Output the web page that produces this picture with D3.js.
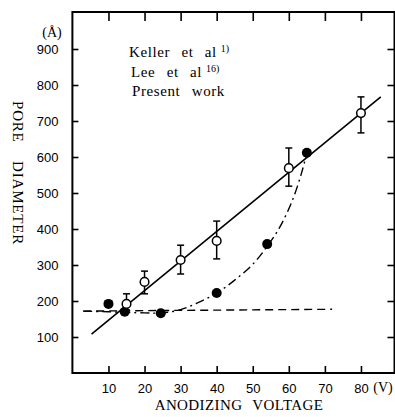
<!DOCTYPE html>
<html><head><meta charset="utf-8">
<script src="https://cdn.jsdelivr.net/npm/d3@7"></script>
<style>body{margin:0;background:#fff}svg{display:block}
.serif{font-family:"Liberation Serif","Tinos","Times New Roman","Times","Nimbus Roman","FreeSerif","DejaVu Serif","Noto Serif",serif}
.sans{font-family:"Liberation Sans","DejaVu Sans",Arial,sans-serif}</style>
</head><body>
<svg id="c" width="395" height="417"></svg>
<script>
const xTicks=[10,20,30,40,50,60,70,80];
const yTicks=[100,200,300,400,500,600,700,800,900];
// Present work: open circles with error bars
const presentV=[15,20,30,40,60,80];
const presentD=[192,253,314,367,569,722];
const presentLo=[175,220,275,317,519,667];
const presentHi=[220,283,355,422,625,767];
// Lee et al: filled circles
const leeV=[10,14.5,24.5,40,54,65];
const leeD=[192,170,166,222,358,612];
// Lee et al dash-dot curve
const leeCurveV=[3,10,20,25,30,35,40,45,50,54,57.5,61,63.6,65];
const leeCurveD=[172,170,167,167,176,196,222,258,302,352,405,480,558,612];
// Keller et al dashed line
const kellerV=[3,72];
const kellerD=[172,177];
// Present work fit line
const fitV=[5.3,85.5];
const fitD=[108,767];

const svg=d3.select("#c");
const x=d3.scaleLinear().domain([0,89.3]).range([72.4,394.5]);
const y=d3.scaleLinear().domain([0,1002.8]).range([373,12]);
const L=x.range()[0],R=x.range()[1],T=y.range()[1],B=y.range()[0];

// frame
svg.append("rect").attr("x",L).attr("y",T).attr("width",R-L).attr("height",B-T)
  .attr("fill","none").attr("stroke","#000").attr("stroke-width",2);

// axes (ticks inward)
const ax=svg.append("g");
const axB=d3.axisBottom(x).tickValues(xTicks).tickSize(-7).tickPadding(11).tickFormat(d3.format("d"));
ax.append("g").attr("transform",`translate(0,${B})`).call(axB).call(g=>{g.select(".domain").remove();g.selectAll("text").attr("class","sans").attr("font-size",13).attr("fill","#000");});
const axT=d3.axisTop(x).tickValues(xTicks).tickSize(-9).tickFormat("");
ax.append("g").attr("transform",`translate(0,${T})`).call(axT).call(g=>g.select(".domain").remove());
const axL=d3.axisLeft(y).tickValues(yTicks).tickSize(-6).tickPadding(14).tickFormat(d3.format("d"));
ax.append("g").attr("transform",`translate(${L},0)`).call(axL).call(g=>{g.select(".domain").remove();g.selectAll("text").attr("class","sans").attr("font-size",13).attr("fill","#000");});
const axR=d3.axisRight(y).tickValues(yTicks).tickSize(-7).tickFormat("");
ax.append("g").attr("transform",`translate(${R},0)`).call(axR).call(g=>g.select(".domain").remove());
ax.selectAll("g").attr("font-family",null);
svg.selectAll(".tick line").attr("stroke","#000").attr("stroke-width",1.6);

// lines
svg.append("path").datum(kellerV.map((v,i)=>[v,kellerD[i]])).attr("d",d3.line().x(d=>x(d[0])).y(d=>y(d[1])))
  .attr("fill","none").attr("stroke","#000").attr("stroke-width",1.4).attr("stroke-dasharray","8,5");
svg.append("path").datum(leeCurveV.map((v,i)=>[v,leeCurveD[i]])).attr("d",d3.line().x(d=>x(d[0])).y(d=>y(d[1])).curve(d3.curveCatmullRom))
  .attr("fill","none").attr("stroke","#000").attr("stroke-width",1.4).attr("stroke-dasharray","9,4,2,4");
svg.append("path").datum(fitV.map((v,i)=>[v,fitD[i]])).attr("d",d3.line().x(d=>x(d[0])).y(d=>y(d[1])))
  .attr("fill","none").attr("stroke","#000").attr("stroke-width",1.6);

// error bars
const eb=svg.append("g").attr("stroke","#000").attr("stroke-width",1.5);
presentV.forEach((v,i)=>{
  eb.append("line").attr("x1",x(v)).attr("x2",x(v)).attr("y1",y(presentLo[i])).attr("y2",y(presentHi[i]));
  [presentLo[i],presentHi[i]].forEach(e=>eb.append("line").attr("x1",x(v)-3.5).attr("x2",x(v)+3.5).attr("y1",y(e)).attr("y2",y(e)));
});
// points
svg.append("g").selectAll("circle").data(leeV.map((v,i)=>[v,leeD[i]])).join("circle")
  .attr("cx",d=>x(d[0])).attr("cy",d=>y(d[1])).attr("r",5).attr("fill","#000");
svg.append("g").selectAll("circle").data(presentV.map((v,i)=>[v,presentD[i]])).join("circle")
  .attr("cx",d=>x(d[0])).attr("cy",d=>y(d[1])).attr("r",4.3).attr("fill","#fff").attr("stroke","#000").attr("stroke-width",1.5);

// texts
svg.append("text").attr("class","serif").attr("x",383).attr("y",392).attr("text-anchor","middle").attr("font-size",14).text("(V)");
svg.append("text").attr("class","serif").attr("x",239).attr("y",410).attr("text-anchor","middle").attr("font-size",15).attr("letter-spacing",0.4).attr("word-spacing",6).text("ANODIZING VOLTAGE");
svg.append("text").attr("class","serif").attr("transform","translate(13,173) rotate(90)").attr("text-anchor","middle").attr("font-size",15).attr("letter-spacing",0.8).attr("word-spacing",14).text("PORE DIAMETER");
svg.append("text").attr("class","serif").attr("x",52).attr("y",37).attr("text-anchor","middle").attr("font-size",14).text("(Å)");
const legT=[["Keller et al","1)",129,57],["Lee et al","16)",131,77],["Present work","",132,96]];
legT.forEach(([t,s,lx,ly])=>{
  const tx=svg.append("text").attr("class","serif").attr("font-size",15).attr("letter-spacing",0.6).attr("word-spacing",7).attr("x",lx).attr("y",ly).text(t);
  if(s) tx.append("tspan").attr("dx",4).attr("dy",-5).attr("font-size",10).attr("letter-spacing",0).text(s);
});
</script>
</body></html>
